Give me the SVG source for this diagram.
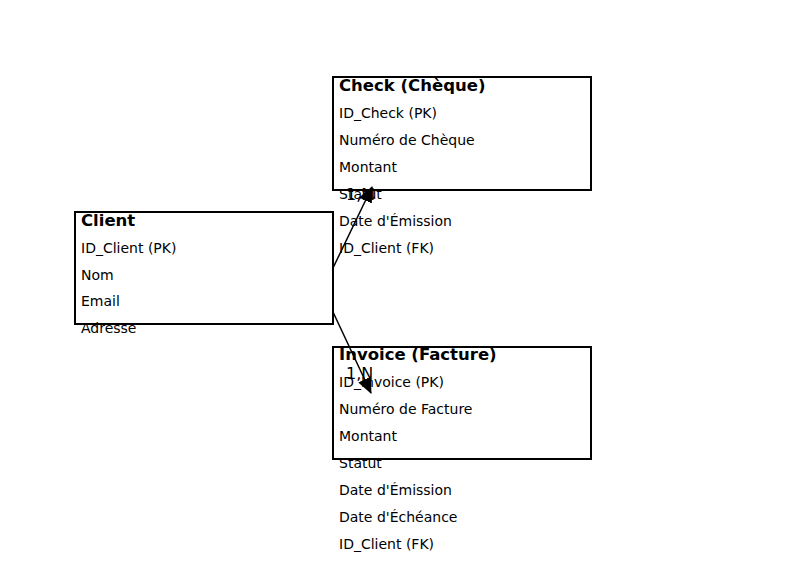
<svg xmlns="http://www.w3.org/2000/svg" width="794" height="562" viewBox="0 0 794 562">
<style>
.box{fill:#fff;stroke:#000;stroke-width:2}
.t{font-family:"DejaVu Sans",sans-serif;font-size:16.5px;font-weight:bold;fill:#000}
.a{font-family:"DejaVu Sans",sans-serif;font-size:14px;fill:#000}
.l{font-family:"DejaVu Sans",sans-serif;font-size:16px;fill:#000}
.c{stroke:#000;stroke-width:1.5;fill:none;marker-end:url(#ah)}
</style>
<defs>
<marker id="ah" viewBox="0 0 16 14" refX="15" refY="7" markerWidth="16" markerHeight="14" markerUnits="userSpaceOnUse" orient="auto">
<path d="M0,0 L16,7 L0,14 z" fill="#000"/>
</marker>
</defs>
<rect width="794" height="562" fill="#fff"/>
<g id="client">
<rect class="box" x="75" y="212" width="258" height="112"/>
<text class="t" x="81" y="226">Client</text>
<text class="a" x="81" y="253">ID_Client (PK)</text>
<text class="a" x="81" y="280">Nom</text>
<text class="a" x="81" y="306">Email</text>
<text class="a" x="81" y="333">Adresse</text>
</g>
<g id="check">
<rect class="box" x="333" y="77" width="258" height="113"/>
<text class="t" x="339" y="91">Check (Chèque)</text>
<text class="a" x="339" y="118">ID_Check (PK)</text>
<text class="a" x="339" y="145">Numéro de Chèque</text>
<text class="a" x="339" y="172">Montant</text>
<text class="a" x="339" y="199">Statut</text>
<text class="a" x="339" y="226">Date d'Émission</text>
<text class="a" x="339" y="253">ID_Client (FK)</text>
</g>
<g id="invoice">
<rect class="box" x="333" y="347" width="258" height="112"/>
<text class="t" x="339" y="360">Invoice (Facture)</text>
<text class="a" x="339" y="387">ID_Invoice (PK)</text>
<text class="a" x="339" y="414">Numéro de Facture</text>
<text class="a" x="339" y="441">Montant</text>
<text class="a" x="339" y="468">Statut</text>
<text class="a" x="339" y="495">Date d'Émission</text>
<text class="a" x="339" y="522">Date d'Échéance</text>
<text class="a" x="339" y="549">ID_Client (FK)</text>
</g>
<g id="connectors">
<line class="c" x1="333" y1="268" x2="372" y2="187"/>
<text class="l" x="346" y="200">1,M</text>
<line class="c" x1="333" y1="312" x2="371" y2="393"/>
<text class="l" x="346" y="379">1,N</text>
</g>
</svg>
